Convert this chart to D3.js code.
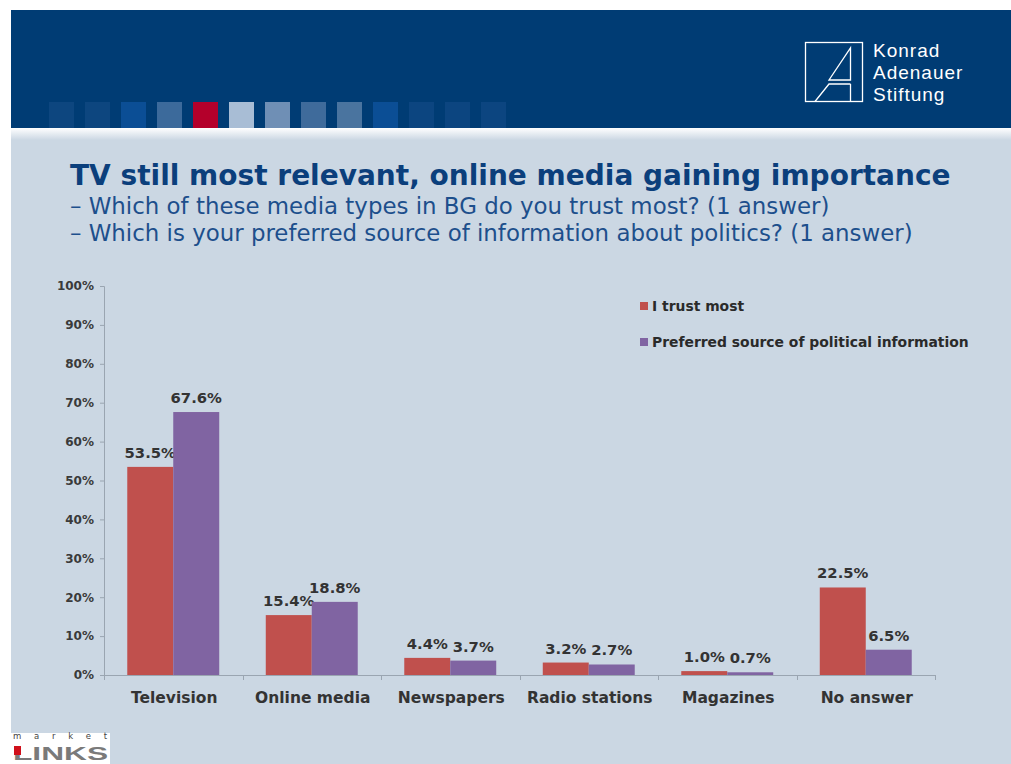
<!DOCTYPE html>
<html>
<head>
<meta charset="utf-8">
<script src="https://cdn.jsdelivr.net/npm/d3@7/dist/d3.min.js"></script>
<style>
  html, body { margin: 0; padding: 0; background: #ffffff; }
  svg { display: block; }
</style>
</head>
<body>
<svg id="chart" width="1011" height="764"></svg>
<script>
// Survey categories and the two answer series (percent)
const categories = ["Television", "Online media", "Newspapers", "Radio stations", "Magazines", "No answer"];
const seriesNames = ["I trust most", "Preferred source of political information"];
const trustMost = [53.5, 15.4, 4.4, 3.2, 1.0, 22.5];
const preferredSource = [67.6, 18.8, 3.7, 2.7, 0.7, 6.5];
const yTicks = [0, 10, 20, 30, 40, 50, 60, 70, 80, 90, 100];
const seriesColors = ["#c0504d", "#8064a2"];

const titleText = "TV still most relevant, online media gaining importance";
const subtitleLines = [
  "\u2013 Which of these media types in BG do you trust most? (1 answer)",
  "\u2013 Which is your preferred source of information about politics? (1 answer)"
];
const logoLines = ["Konrad", "Adenauer", "Stiftung"];
const headerSquares = ["#0d467f", "#0d467f", "#0b4e95", "#3c6a9b", "#b4002b", "#a8bdd5", "#6f8fb5", "#3f6b9b", "#4a749f", "#0b4e95", "#0c4580", "#0c4580", "#0c4580"];

const svg = d3.select("#chart");
const W = 1011, H = 764;
const FONT = "'DejaVu Sans', Verdana, sans-serif";

// Slide background
const defs = svg.append("defs");
const grad = defs.append("linearGradient").attr("id", "strip").attr("x1", 0).attr("y1", 0).attr("x2", 0).attr("y2", 1);
grad.append("stop").attr("offset", "0%").attr("stop-color", "#ffffff");
grad.append("stop").attr("offset", "100%").attr("stop-color", "#cbd7e3");

svg.append("rect").attr("x", 11).attr("y", 10).attr("width", W - 11).attr("height", H - 10).attr("fill", "#cbd7e3");
svg.append("rect").attr("x", 11).attr("y", 128).attr("width", W - 11).attr("height", 12).attr("fill", "url(#strip)");

// Header band
svg.append("rect").attr("x", 11).attr("y", 10).attr("width", W - 11).attr("height", 118).attr("fill", "#003c74");
const sq = svg.append("g");
headerSquares.forEach((c, i) => {
  sq.append("rect").attr("x", 49 + i * 36).attr("y", 102).attr("width", 25).attr("height", 26).attr("fill", c);
});

// Foundation logo
const logo = svg.append("g").attr("stroke", "#ffffff").attr("stroke-width", 1.3).attr("fill", "none");
logo.append("rect").attr("x", 805.5).attr("y", 42.5).attr("width", 57).attr("height", 59);
logo.append("path").attr("d", "M850.5,48 L850.5,80 L829,80 Z");
logo.append("path").attr("d", "M850.5,84 L850.5,101.5 M850.5,84 L829,84 L815,101.5");
const logoText = svg.append("text").attr("fill", "#ffffff").attr("font-family", "'Liberation Sans', Arial, sans-serif")
  .attr("font-size", 19).attr("letter-spacing", 1);
logoLines.forEach((t, i) => {
  logoText.append("tspan").attr("x", 873).attr("y", 57 + i * 22).text(t);
});

// Title block
svg.append("text").attr("x", 70).attr("y", 185).attr("font-family", FONT).attr("font-weight", "bold")
  .attr("font-size", 28).attr("fill", "#0b3f7c").text(titleText);
subtitleLines.forEach((t, i) => {
  svg.append("text").attr("x", 70).attr("y", 214 + i * 27).attr("font-family", FONT)
    .attr("font-size", 22.9).attr("fill", "#1d4f8c").text(t);
});

// Chart area
const plot = { left: 104, right: 935, top: 286, bottom: 675 };
const x0 = d3.scaleBand().domain(categories).range([plot.left, plot.right]).paddingInner(0.336).paddingOuter(0.168);
const x1 = d3.scaleBand().domain([0, 1]).range([0, x0.bandwidth()]);
const y = d3.scaleLinear().domain([0, 100]).range([plot.bottom, plot.top]);

const g = svg.append("g");

// Y axis
const yAxis = d3.axisLeft(y).tickValues(yTicks).tickFormat(d => d + "%").tickSize(4).tickPadding(6);
const ya = g.append("g").attr("transform", `translate(${plot.left},0)`).call(yAxis);
ya.select(".domain").attr("stroke", "#9aa5b1");
ya.selectAll(".tick line").attr("stroke", "#9aa5b1");
ya.selectAll(".tick text").attr("font-family", FONT).attr("font-weight", "bold").attr("font-size", 12)
  .attr("fill", "#3a3a3a");

// X axis with category boundary ticks
const xAxisLine = g.append("g");
xAxisLine.append("line").attr("x1", plot.left).attr("x2", plot.right).attr("y1", plot.bottom + 0.5).attr("y2", plot.bottom + 0.5)
  .attr("stroke", "#9aa5b1");
const step = x0.step();
d3.range(categories.length + 1).forEach(i => {
  const xx = Math.round(plot.left + i * step) + 0.5;
  xAxisLine.append("line").attr("x1", xx).attr("x2", xx).attr("y1", plot.bottom).attr("y2", plot.bottom + 5).attr("stroke", "#9aa5b1");
});
g.selectAll(".catlabel").data(categories).join("text").attr("class", "catlabel")
  .attr("x", d => x0(d) + x0.bandwidth() / 2 + 1).attr("y", 703).attr("text-anchor", "middle")
  .attr("font-family", FONT).attr("font-weight", "bold").attr("font-size", 15.5).attr("fill", "#333333").text(d => d);

// Bars
const series = [trustMost, preferredSource];
series.forEach((vals, s) => {
  const sg = g.append("g");
  sg.selectAll("rect").data(categories).join("rect")
    .attr("x", d => x0(d) + x1(s))
    .attr("y", (d, i) => y(vals[i]))
    .attr("width", x1.bandwidth())
    .attr("height", (d, i) => y(0) - y(vals[i]))
    .attr("fill", seriesColors[s]);
  sg.selectAll("text").data(categories).join("text")
    .attr("x", d => x0(d) + x1(s) + x1.bandwidth() / 2)
    .attr("y", (d, i) => y(vals[i]) - 9)
    .attr("text-anchor", "middle")
    .attr("font-family", FONT).attr("font-weight", "bold").attr("font-size", 14.8).attr("fill", "#333333")
    .text((d, i) => vals[i].toFixed(1) + "%");
});

// Legend
const lg = svg.append("g");
seriesNames.forEach((n, i) => {
  lg.append("rect").attr("x", 640).attr("y", 302 + i * 36).attr("width", 8).attr("height", 8).attr("fill", seriesColors[i]);
  lg.append("text").attr("x", 652).attr("y", 311 + i * 36).attr("font-family", FONT).attr("font-weight", "bold")
    .attr("font-size", 13.9).attr("fill", "#2a2a2a").text(n);
});

// market LINKS mark
const ml = svg.append("g");
ml.append("rect").attr("x", 11).attr("y", 733).attr("width", 99).attr("height", 31).attr("fill", "#ffffff");
ml.append("text").attr("x", 13).attr("y", 739).attr("font-family", FONT).attr("font-size", 8.5).attr("fill", "#444")
  .attr("textLength", 94).attr("lengthAdjust", "spacing").text("market");
ml.append("text").attr("x", 13).attr("y", 759.5).attr("font-family", "'Liberation Sans', Arial, sans-serif")
  .attr("font-weight", "bold").attr("font-size", 19)
  .attr("fill", "#7a7a7a").attr("textLength", 95).attr("lengthAdjust", "spacingAndGlyphs").text("LINKS");
ml.append("rect").attr("x", 14).attr("y", 746).attr("width", 7).attr("height", 9).attr("fill", "#d0101b");
</script>
</body>
</html>
